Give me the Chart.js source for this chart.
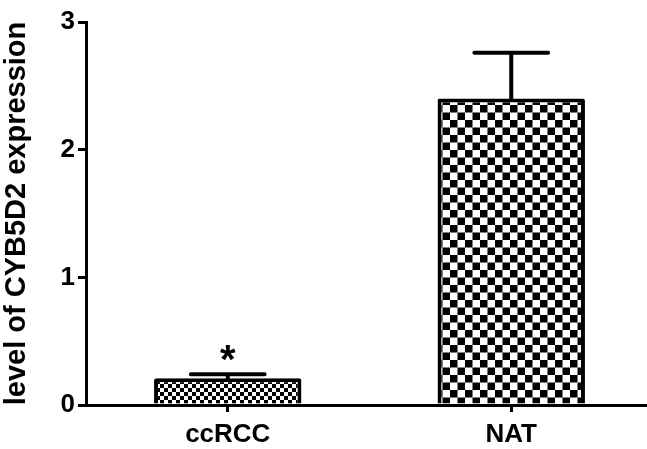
<!DOCTYPE html>
<html>
<head>
<meta charset="utf-8">
<script src="https://cdn.jsdelivr.net/npm/chart.js@4.4.0/dist/chart.umd.min.js"></script>
<style>
    body { margin: 0; background: #fff; overflow: hidden; }
    canvas { display: block; }
</style>
</head>
<body>
<canvas id="exprChart" width="653" height="449"></canvas>
<script>
// data
const groups = ['ccRCC', 'NAT'];
const meanExpr = [0.21, 2.40];
const semExpr = [0.03, 0.36];
const marks = ['*', ''];
const yTicks = [0, 1, 2, 3];

function checkerPattern(cell) {
    const c = document.createElement('canvas');
    c.width = cell * 2;
    c.height = cell * 2;
    const g = c.getContext('2d');
    g.fillStyle = '#fff';
    g.fillRect(0, 0, c.width, c.height);
    g.fillStyle = '#000';
    g.fillRect(0, 0, cell, cell);
    g.fillRect(cell, cell, cell, cell);
    return g.createPattern(c, 'repeat');
}

const errorBars = {
    id: 'errorBars',
    afterDatasetsDraw(chart) {
        const ctx = chart.ctx;
        const y = chart.scales.y;
        const meta = chart.getDatasetMeta(0);
        ctx.save();
        ctx.strokeStyle = '#000';
        ctx.lineWidth = 4;
        ctx.lineCap = 'round';
        meta.data.forEach((bar, i) => {
            const top = y.getPixelForValue(meanExpr[i] + semExpr[i]);
            const base = y.getPixelForValue(meanExpr[i]);
            const half = bar.width / 4;
            ctx.beginPath();
            ctx.moveTo(bar.x, base);
            ctx.lineTo(bar.x, top);
            ctx.moveTo(bar.x - half, top);
            ctx.lineTo(bar.x + half, top);
            ctx.stroke();
            if (marks[i]) {
                ctx.fillStyle = '#000';
                ctx.font = 'bold 40px "Liberation Sans", Arial, sans-serif';
                ctx.textAlign = 'center';
                ctx.textBaseline = 'alphabetic';
                ctx.fillText(marks[i], bar.x, top - 1);
            }
        });
        ctx.restore();
    }
};

document.addEventListener('DOMContentLoaded', function() {
    const ctx = document.getElementById('exprChart');
    const fills = [checkerPattern(4), checkerPattern(7.5)];
    const font = "'Liberation Sans', Arial, sans-serif";

    window.exprChart = new Chart(ctx, {
        type: 'bar',
        data: {
            labels: groups,
            datasets: [{
                data: meanExpr,
                backgroundColor: fills,
                borderColor: '#000',
                borderWidth: 4,
                borderSkipped: 'bottom',
                borderRadius: 2,
                barPercentage: 0.52,
                categoryPercentage: 1
            }]
        },
        options: {
            responsive: false,
            animation: false,
            layout: { padding: { top: 22, right: 0, left: 0, bottom: 0 } },
            plugins: {
                legend: { display: false },
                tooltip: { enabled: false }
            },
            scales: {
                x: {
                    afterFit(scale) { scale.height = 44; },
                    border: { display: true, color: '#000', width: 3 },
                    grid: {
                        offset: false,
                        drawOnChartArea: false,
                        drawTicks: true,
                        tickLength: 7,
                        color: '#000',
                        lineWidth: 3
                    },
                    ticks: {
                        color: '#000',
                        padding: 7,
                        font: { family: font, size: 26, weight: 'bold' }
                    }
                },
                y: {
                    min: 0,
                    max: 3,
                    afterFit(scale) { scale.width = 86; },
                    afterBuildTicks(scale) {
                        scale.ticks = yTicks.map(v => ({ value: v }));
                    },
                    border: { display: true, color: '#000', width: 3 },
                    grid: {
                        drawOnChartArea: false,
                        drawTicks: true,
                        tickLength: 8,
                        color: '#000',
                        lineWidth: 3
                    },
                    ticks: {
                        color: '#000',
                        padding: 3,
                        font: { family: font, size: 26, weight: 'bold' }
                    },
                    title: {
                        display: true,
                        text: 'level of CYB5D2 expression',
                        color: '#000',
                        padding: { top: 0, bottom: 0 },
                        font: { family: font, size: 29, weight: 'bold' }
                    }
                }
            }
        },
        plugins: [errorBars]
    });
});
</script>
</body>
</html>
